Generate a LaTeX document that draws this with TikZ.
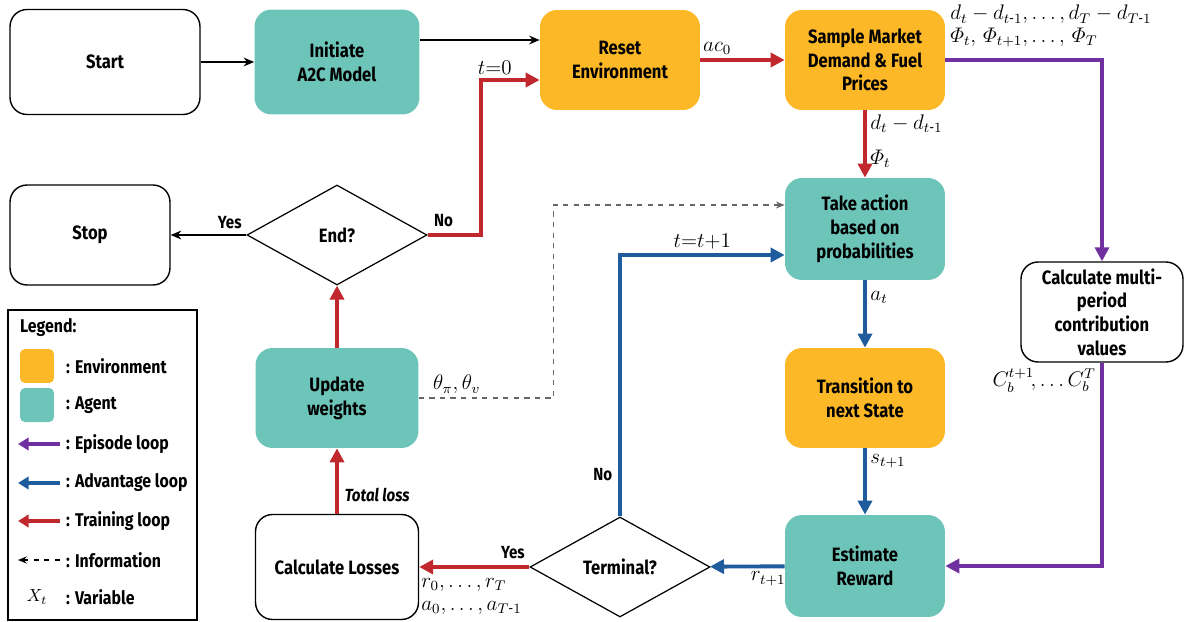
\documentclass[tikz,border=0pt]{standalone}
\usepackage{amsmath}
\usepackage{fontspec}
\setmainfont{Fira Sans}[FakeStretch=0.86]
\usetikzlibrary{arrows.meta,shapes.geometric,positioning,calc}

\definecolor{envcol}{HTML}{FDB827}
\definecolor{agcol}{HTML}{6DC5BA}
\definecolor{trainred}{HTML}{C0282D}
\definecolor{advblue}{HTML}{1F5C9E}
\definecolor{epipurple}{HTML}{7030A0}

\begin{document}
\begin{tikzpicture}[x=0.02cm,y=-0.02cm,
    box/.style={rectangle,rounded corners=0.34cm,minimum width=3.2cm,minimum height=2cm,
      align=center,font=\fontsize{11}{13.5}\selectfont\bfseries,inner sep=2pt},
    envbox/.style={box,fill=envcol},
    agbox/.style={box,fill=agcol},
    plainbox/.style={box,draw=black,line width=0.8pt,fill=white},
    decision/.style={diamond,draw=black,line width=0.7pt,minimum width=3.6cm,minimum height=2cm,
      font=\fontsize{11}{13.5}\selectfont\bfseries,inner sep=0pt},
    thinarr/.style={draw=black,line width=0.6pt,-{Stealth[length=6pt,width=5pt]}},
    infoarr/.style={draw=black!60,dashed,line width=0.6pt,-{Stealth[length=5pt,width=4pt]}},
    trainarr/.style={draw=trainred,line width=2.2pt,-{Triangle[length=8pt,width=8pt]}},
    advarr/.style={draw=advblue,line width=2.2pt,-{Triangle[length=8pt,width=8pt]}},
    epiarr/.style={draw=epipurple,line width=2.2pt,-{Triangle[length=8pt,width=8pt]}},
    var/.style={font=\large,inner sep=2pt},
    ans/.style={font=\bfseries},
    legtxt/.style={font=\fontsize{10.5}{12}\selectfont\bfseries,anchor=west}]

  \useasboundingbox (0,0) rectangle (1184,622);

  % top row
  \node[plainbox,minimum width=3.8cm,minimum height=2.1cm] (start) at (105,62) {Start};
  \node[agbox,minimum width=3.3cm,minimum height=2.1cm] (init) at (337,62) {Initiate\\A2C Model};
  \node[envbox] (reset) at (620,60) {Reset\\Environment};
  \node[envbox] (sample) at (865,60) {Sample Market\\Demand \& Fuel\\Prices};

  % second row
  \node[plainbox] (stop) at (90,235) {Stop};
  \node[decision] (endq) at (337,235) {End?};
  \node[agbox,minimum height=2.04cm] (take) at (865,229) {Take action\\based on\\probabilities};
  \node[plainbox,minimum width=3.24cm] (contrib) at (1102,312) {Calculate multi-\\period\\contribution\\values};

  % third row
  \node[agbox,minimum width=3.26cm] (update) at (337,398) {Update\\weights};
  \node[envbox] (trans) at (865,398) {Transition to\\next State};

  % bottom row
  \node[plainbox,minimum width=3.26cm,minimum height=2.1cm] (losses) at (337,567) {Calculate Losses};
  \node[decision] (term) at (620,567) {Terminal?};
  \node[agbox,minimum height=2.04cm] (est) at (865,566) {Estimate\\Reward};

  % flow
  \draw[thinarr] (start) -- (init);
  \draw[thinarr] ([yshift=0.44cm]init.east) -- ([yshift=0.44cm]init.east -| reset.west);
  \draw[trainarr] (reset) -- node[var,above,pos=0.2] {$ac_0$} (sample);
  \draw[trainarr] (sample) -- node[var,right,pos=0.2] {$d_t - d_{t\text{-}1}$}
                             node[var,right,pos=0.72] {$\varPhi_t$} (take);
  \draw[epiarr] (sample.east) -| (contrib.north);
  \node[var,align=left,anchor=north west,inner sep=0pt] (dlist) at (950,5)
    {$d_t - d_{t\text{-}1},\dots, d_T - d_{T\text{-}1}$\\[-1pt]$\varPhi_t,\, \varPhi_{t+1},\dots,\, \varPhi_T$};
  \draw[epiarr] (contrib.south) |- (est.east);
  \node[var,anchor=north east,inner sep=0pt] (clist) at (1096,368) {$C_b^{t+1}\!, \dots C_b^{T}$};
  \draw[advarr] (take) -- node[var,right,pos=0.25] {$a_t$} (trans);
  \draw[advarr] (trans) -- node[var,right,pos=0.2] {$s_{t+1}$} (est);
  \draw[advarr] (est) -- node[var,below,pos=0.22] {$r_{t+1}$} (term);
  \draw[advarr] (term.north) |- node[ans,left,pos=0.08] {No}
                               node[var,above,pos=0.75] {$t{=}t{+}1$} ([yshift=-0.52cm]take.west);
  \draw[trainarr] (term.west) -- node[ans,above,pos=0.15] {Yes} (losses.east);
  \node[var,align=left,anchor=north west,inner sep=0pt] (rlist) at (421,578)
    {$r_0,\dots, r_T$\\[-1pt]$a_0,\dots, a_{T\text{-}1}$};
  \draw[trainarr] (losses) -- node[right,pos=0.28,font=\bfseries\itshape] {Total loss} (update);
  \draw[trainarr] (update) -- (endq);
  \draw[thinarr] (endq.west) -- node[ans,above,pos=0.22] {Yes} (stop.east);
  \draw[trainarr] (endq.east) -- node[ans,above,pos=0.3] {No} ++(53,0)
                   |- node[var,above,pos=0.62] {$t{=}0$} ([yshift=-0.4cm]reset.west);
  \draw[infoarr] (update.east) -- node[var,above,pos=0.28] {$\theta_\pi,\theta_v$} ++(135,0)
                   |- ([yshift=0.48cm]take.west);

  % legend
  \node[draw=black,line width=0.7pt,minimum width=3.78cm,minimum height=6.2cm] (legend) at (102.5,465) {};
  \node[legtxt] (legtitle) at (14,328) {Legend:};
  \node[fill=envcol,rounded corners=0.1cm,minimum size=0.68cm] (swenv) at (37,366) {};
  \node[legtxt] (lgenv) at (60,366) {: Environment};
  \node[fill=agcol,rounded corners=0.1cm,minimum size=0.68cm] (swag) at (37,405) {};
  \node[legtxt] (lgag) at (60,405) {: Agent};
  \node[legtxt] (lgepi) at (60,444) {: Episode loop};
  \draw[epiarr,line width=1.8pt,-{Triangle[length=6pt,width=7pt]}] (lgepi.west) -- ++(-42,0);
  \node[legtxt] (lgadv) at (60,483) {: Advantage loop};
  \draw[advarr,line width=1.8pt,-{Triangle[length=6pt,width=7pt]}] (lgadv.west) -- ++(-42,0);
  \node[legtxt] (lgtrain) at (60,521) {: Training loop};
  \draw[trainarr,line width=1.8pt,-{Triangle[length=6pt,width=7pt]}] (lgtrain.west) -- ++(-42,0);
  \node[legtxt] (lginfo) at (60,560) {: Information};
  \draw[infoarr,draw=black] (lginfo.west) -- ++(-42,0);
  \node[legtxt] (lgvar) at (60,597) {: Variable};
  \node[font=\normalsize] (xvar) at (37,597) {$X_t$};
\end{tikzpicture}
\end{document}
